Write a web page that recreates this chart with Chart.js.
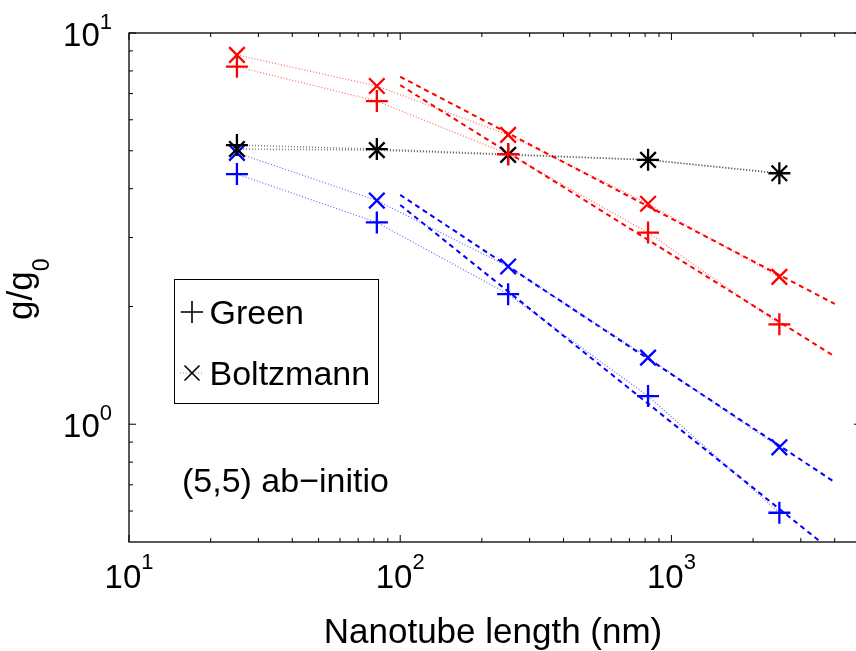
<!DOCTYPE html>
<html>
<head>
<meta charset="utf-8">
<script src="https://cdn.jsdelivr.net/npm/chart.js@4.4.1/dist/chart.umd.min.js"></script>
<style>
html, body { margin: 0; padding: 0; background: #fff; overflow: hidden; }
canvas { display: block; }
</style>
</head>
<body>
<canvas id="chart" width="862" height="651"></canvas>
<script>
// nanotube lengths (nm)
const lengths = [25, 82, 250, 820, 2500];

// red set
const redGreen = [8.20, 6.70, 4.90, 3.09, 1.80];
const redBoltz = [8.79, 7.32, 5.49, 3.66, 2.38];
// black set
const blackGreen = [5.17, 5.05, 4.90, 4.74, 4.38];
const blackBoltz = [5.05, 5.02, 4.88, 4.74, 4.38];
// blue set
const blueGreen = [4.36, 3.28, 2.15, 1.18, 0.594];
const blueBoltz = [4.94, 3.73, 2.53, 1.48, 0.873];

// power-law fits, drawn from 100 nm on
const fitLengths = [100, 4000];
const redBoltzFit = [7.73, 2.03];
const redGreenFit = [7.36, 1.49];
const blueBoltzFit = [3.855, 0.711];
const blueGreenFit = [3.635, 0.468];

const xTicks = [10, 100, 1000];
const xTickExp = ['1', '2', '3'];
const yTicks = [1, 10];
const yTickExp = ['0', '1'];

const legendNames = ['Green', 'Boltzmann'];
const noteText = '(5,5) ab\u2212initio';

const FONT = '"Liberation Sans", Arial, Helvetica, sans-serif';

function toXY(xs, ys) {
    return xs.map((x, i) => ({ x: x, y: ys[i] }));
}

function dataSeries(values, color, faded, style, width) {
    return {
        data: toXY(lengths, values),
        borderColor: faded,
        borderWidth: width,
        borderDash: [1, 2],
        pointStyle: style,
        pointRadius: 11,
        pointBorderColor: color,
        pointBackgroundColor: color,
        pointBorderWidth: 2.3,
        fill: false,
        tension: 0
    };
}

function fitSeries(values, color) {
    return {
        data: toXY(fitLengths, values),
        borderColor: color,
        borderWidth: 2,
        borderDash: [5, 4],
        pointRadius: 0,
        fill: false,
        clip: 0
    };
}

const RED = '#ff0000', BLUE = '#0000ff', BLACK = '#000000';

const axesPlugin = {
    id: 'matlabAxes',
    afterDraw(chart) {
        const ctx = chart.ctx;
        const area = chart.chartArea;
        const xs = chart.scales.x, ys = chart.scales.y;
        ctx.save();

        // box
        ctx.strokeStyle = '#000';
        ctx.lineWidth = 1.3;
        ctx.strokeRect(area.left, area.top, area.right - area.left, area.bottom - area.top);

        // ticks, pointing inward on all four sides
        function xTick(v, len) {
            const px = xs.getPixelForValue(v);
            ctx.beginPath();
            ctx.moveTo(px, area.bottom); ctx.lineTo(px, area.bottom - len);
            ctx.moveTo(px, area.top); ctx.lineTo(px, area.top + len);
            ctx.stroke();
        }
        function yTick(v, len) {
            const py = ys.getPixelForValue(v);
            ctx.beginPath();
            ctx.moveTo(area.left, py); ctx.lineTo(area.left + len, py);
            ctx.moveTo(area.right, py); ctx.lineTo(area.right - len, py);
            ctx.stroke();
        }
        ctx.lineWidth = 1;
        xTicks.forEach(d => {
            xTick(d, 7);
            for (let k = 2; k <= 9; k++) {
                if (k * d <= xs.max) xTick(k * d, 4);
            }
        });
        yTick(10, 7);
        yTick(1, 7);
        for (let k = 6; k <= 9; k++) yTick(k / 10, 4);
        for (let k = 2; k <= 9; k++) yTick(k, 4);

        // tick labels 10^n
        ctx.fillStyle = '#000';
        ctx.textBaseline = 'alphabetic';
        ctx.textAlign = 'left';
        xTicks.forEach((v, i) => {
            const px = xs.getPixelForValue(v);
            ctx.font = '33px ' + FONT;
            const w1 = ctx.measureText('10').width;
            ctx.font = '22px ' + FONT;
            const w2 = ctx.measureText(xTickExp[i]).width;
            const x0 = px - (w1 + w2) / 2;
            ctx.font = '33px ' + FONT;
            ctx.fillText('10', x0, 588);
            ctx.font = '22px ' + FONT;
            ctx.fillText(xTickExp[i], x0 + w1, 569);
        });
        yTicks.forEach((v, i) => {
            const py = ys.getPixelForValue(v);
            ctx.font = '22px ' + FONT;
            const w2 = ctx.measureText(yTickExp[i]).width;
            ctx.font = '33px ' + FONT;
            const w1 = ctx.measureText('10').width;
            const x0 = 112 - w2 - w1;
            ctx.fillText('10', x0, py + 13);
            ctx.font = '22px ' + FONT;
            ctx.fillText(yTickExp[i], x0 + w1, py - 4);
        });

        // axis titles
        ctx.font = '35px ' + FONT;
        ctx.textAlign = 'center';
        ctx.fillText('Nanotube length (nm)', 493, 643);

        ctx.save();
        ctx.translate(32, 320);
        ctx.rotate(-Math.PI / 2);
        ctx.textAlign = 'left';
        ctx.font = '35px ' + FONT;
        const wg = ctx.measureText('g/g').width;
        ctx.fillText('g/g', 0, 0);
        ctx.font = '23px ' + FONT;
        ctx.fillText('0', wg, 17);
        ctx.restore();

        // note
        ctx.textAlign = 'left';
        ctx.font = '34px ' + FONT;
        ctx.fillText(noteText, 182, 492);

        // legend
        ctx.fillStyle = '#fff';
        ctx.fillRect(174.5, 279.5, 204, 124);
        ctx.strokeStyle = '#000';
        ctx.lineWidth = 1;
        ctx.strokeRect(174.5, 279.5, 204, 124);
        const rows = [312, 373];
        const baselines = [324, 385];
        rows.forEach((cy, i) => {
            ctx.strokeStyle = 'rgba(0,0,0,0.45)';
            ctx.setLineDash([1, 2]);
            ctx.beginPath();
            ctx.moveTo(180, cy); ctx.lineTo(204, cy);
            ctx.stroke();
            ctx.setLineDash([]);
            ctx.strokeStyle = '#000';
            ctx.lineWidth = 1.6;
            ctx.beginPath();
            if (i === 0) {
                ctx.moveTo(181, cy); ctx.lineTo(203, cy);
                ctx.moveTo(192, cy - 11); ctx.lineTo(192, cy + 11);
            } else {
                ctx.moveTo(184.5, cy - 7.5); ctx.lineTo(199.5, cy + 7.5);
                ctx.moveTo(184.5, cy + 7.5); ctx.lineTo(199.5, cy - 7.5);
            }
            ctx.stroke();
            ctx.lineWidth = 1;
            ctx.fillStyle = '#000';
            ctx.font = '34px ' + FONT;
            ctx.fillText(legendNames[i], 209.5, baselines[i]);
        });

        ctx.restore();
    }
};

new Chart(document.getElementById('chart'), {
    type: 'line',
    data: {
        datasets: [
            dataSeries(redGreen, RED, 'rgba(255,0,0,0.6)', 'cross', 1.2),
            dataSeries(redBoltz, RED, 'rgba(255,0,0,0.6)', 'crossRot', 1.2),
            dataSeries(blackGreen, BLACK, 'rgba(0,0,0,0.5)', 'cross', 1.6),
            dataSeries(blackBoltz, BLACK, 'rgba(0,0,0,0.5)', 'crossRot', 1.6),
            dataSeries(blueGreen, BLUE, 'rgba(0,0,255,0.6)', 'cross', 1.2),
            dataSeries(blueBoltz, BLUE, 'rgba(0,0,255,0.6)', 'crossRot', 1.2),
            fitSeries(redBoltzFit, RED),
            fitSeries(redGreenFit, RED),
            fitSeries(blueBoltzFit, BLUE),
            fitSeries(blueGreenFit, BLUE)
        ]
    },
    options: {
        responsive: false,
        animation: false,
        devicePixelRatio: 1,
        layout: { autoPadding: false, padding: { left: 129, top: 33, right: 1, bottom: 109 } },
        scales: {
            x: { type: 'logarithmic', min: 10, max: 5000, display: false },
            y: { type: 'logarithmic', min: 0.5, max: 10, display: false }
        },
        plugins: {
            legend: { display: false },
            tooltip: { enabled: false }
        }
    },
    plugins: [axesPlugin]
});
</script>
</body>
</html>
